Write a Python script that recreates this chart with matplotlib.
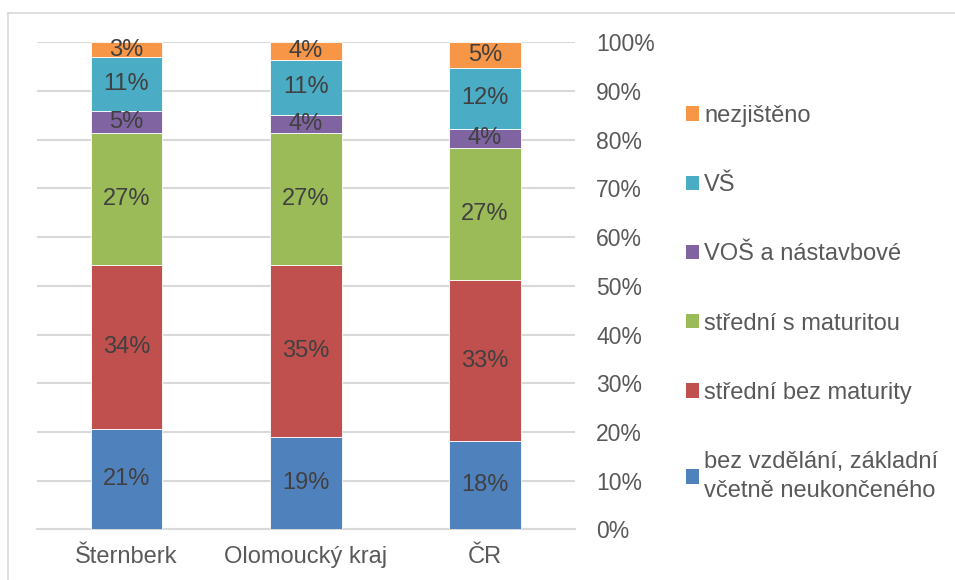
import matplotlib
matplotlib.use('Agg')
import matplotlib.pyplot as plt
from matplotlib.lines import Line2D
from matplotlib.patches import Patch
import numpy as np

plt.rcParams['font.family'] = ['Liberation Sans', 'DejaVu Sans']

# Data (shares in %)
categories = ['Šternberk', 'Olomoucký kraj', 'ČR']
series_names = [
    'bez vzdělání, základní\nvčetně neukončeného',
    'střední bez maturity',
    'střední s maturitou',
    'VOŠ a nástavbové',
    'VŠ',
    'nezjištěno',
]
bez_vzdelani = [20.7, 18.9, 18.1]
bez_maturity = [33.6, 35.4, 33.0]
s_maturitou = [27.0, 27.1, 27.2]
vos = [4.7, 3.7, 4.0]
vs = [10.9, 11.3, 12.4]
nezjisteno = [3.1, 3.6, 5.3]
tick_values = [0, 10, 20, 30, 40, 50, 60, 70, 80, 90, 100]

series = [bez_vzdelani, bez_maturity, s_maturitou, vos, vs, nezjisteno]
colors = ['#4f81bd', '#c0504d', '#9bbb59', '#8064a2', '#4bacc6', '#f79646']

fig = plt.figure(figsize=(9.55, 5.8), dpi=100)
ax = fig.add_axes([0.0387, 0.0874, 0.5629, 0.8396])

x = np.arange(len(categories))
bottom = np.zeros(len(categories))
for vals, col in zip(series, colors):
    vals = np.array(vals)
    ax.bar(x, vals, 0.4, bottom=bottom, color=col, edgecolor='white',
           linewidth=0.6, zorder=3)
    for xi, b, v in zip(x, bottom, vals):
        ax.text(xi, b + v / 2, f'{v:.0f}%', ha='center', va='center',
                fontsize=17, color='#404040', zorder=4)
    bottom += vals

ax.set_xlim(-0.5, len(categories) - 0.5)
ax.set_ylim(0, 100)
ax.set_xticks(x)
ax.set_xticklabels(categories, fontsize=17, color='#595959')
ax.set_yticks(tick_values)
ax.set_yticklabels([f'{t}%' for t in tick_values], fontsize=16.5, color='#595959')
ax.yaxis.tick_right()
ax.tick_params(axis='y', length=0, pad=15.5)
ax.tick_params(axis='x', length=0, pad=12)
ax.grid(axis='y', color='#d9d9d9', linewidth=1.5, zorder=0)
for s in ['top', 'left', 'right']:
    ax.spines[s].set_visible(False)
ax.spines['bottom'].set_color('#d9d9d9')
ax.spines['bottom'].set_linewidth(1.5)

# legend on the right, reversed order
handles = [Patch(facecolor=c, edgecolor='none') for c in colors]
leg = fig.legend(handles[::-1], series_names[::-1], loc='upper left',
                 bbox_to_anchor=(0.7085, 0.8355), frameon=False, fontsize=17,
                 borderaxespad=0, handlelength=0.55, handleheight=0.55,
                 handletextpad=0.22, labelspacing=2.0, labelcolor='#595959')
for t in leg.get_texts():
    t.set_linespacing(1.4)

# chart frame lines (left and top)
fig.add_artist(Line2D([8 / 955, 8 / 955], [0, 1 - 13 / 580],
                      transform=fig.transFigure, color='#d9d9d9', linewidth=1.2))
fig.add_artist(Line2D([8 / 955, 1], [1 - 13 / 580, 1 - 13 / 580],
                      transform=fig.transFigure, color='#d9d9d9', linewidth=1.2))

fig.savefig('out.png', dpi=100)
